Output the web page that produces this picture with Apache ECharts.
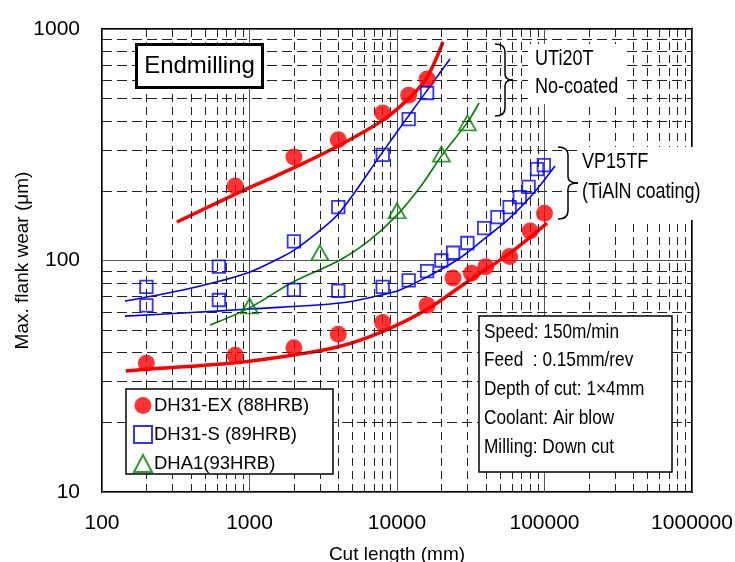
<!DOCTYPE html>
<html><head><meta charset="utf-8">
<script src="https://cdn.jsdelivr.net/npm/echarts@6/dist/echarts.min.js"></script>
<style>html,body{margin:0;padding:0;background:#fff}#c{width:735px;height:562px}</style>
</head><body><div id="c"></div>
<script>
// ---- tick labels ----
const xTickLabels = ['100', '1000', '10000', '100000', '1000000'];
const yTickLabels = ['10', '100', '1000'];
const minorX = [200,300,400,500,600,700,800,900,2000,3000,4000,5000,6000,7000,8000,9000,
  20000,30000,40000,50000,60000,70000,80000,90000,200000,300000,400000,500000,600000,700000,800000,900000];
const minorY = [20,30,40,50,60,70,80,90,200,300,400,500,600,700,800,900];

// ---- DH31-EX (88HRB) measured points ----
const exUpX = [800, 2000, 4000, 8000, 12000, 16000];
const exUpY = [210, 280, 332, 434, 518, 608];
const exLowX = [200, 800, 2000, 4000, 8000, 16000, 24000, 32000, 40000, 58000, 80000, 100000];
const exLowY = [36, 39, 42, 48, 54, 64, 84, 88, 94, 104, 134, 160];
// ---- DH31-S (89HRB) measured points ----
const sUpX = [200, 620, 2000, 4000, 8000, 12000, 16000];
const sUpY = [77, 94, 121, 170, 286, 408, 529];
const sLowX = [200, 620, 2000, 4000, 8000, 12000, 16000, 20000, 24000, 30000, 39000, 48000, 58000, 68000, 78000, 89000, 99000];
const sLowY = [64, 67.5, 74.6, 74, 77, 82, 90, 100, 108, 119, 138, 154, 170, 188, 208, 248, 258];
// ---- DHA1 (93HRB) measured points ----
const aX = [1000, 3000, 10000, 20000, 30000];
const aY = [63.6, 108, 164, 288, 393];

// ---- fitted curves ----
const exUpCurveX = [322, 863, 1315, 2198, 3980, 7900, 11700, 15740, 20500];
const exUpCurveY = [146.6, 197.7, 223, 258.7, 312.4, 401, 493, 608, 879];
const exLowCurveX = [145, 200, 800, 2000, 4000, 7900, 15700, 29860, 58300, 104000];
const exLowCurveY = [33.3, 33.9, 36.2, 39.1, 42.4, 49.2, 61.1, 80.8, 107.6, 145];
const sUpCurveX = [143, 354, 631, 1008, 1610, 1972, 2870, 4110, 7900, 11700, 15740, 22860];
const sUpCurveY = [66.8, 74.6, 81.5, 89.2, 102.6, 110, 131.6, 162, 291, 413, 535, 742];
const sLowCurveX = [143, 354, 1000, 4110, 7900, 10470, 15960, 25500, 38300, 58300, 83500, 117800];
const sLowCurveY = [57.5, 59.3, 61.7, 65.5, 71, 74.6, 84.9, 100.5, 122.7, 152.8, 193.6, 255.8];
const aCurveX = [540, 1000, 1972, 4110, 6560, 10000, 14320, 20180, 29860, 35970];
const aCurveY = [52.6, 62.4, 80.8, 100.5, 122.7, 157, 207, 285, 393, 479];

const names = ['DH31-EX (88HRB)', 'DH31-S (89HRB)', 'DHA1(93HRB)'];
const conditions = ['Speed: 150m/min', 'Feed  : 0.15mm/rev', 'Depth of cut: 1\u00d74mm', 'Coolant: Air blow', 'Milling: Down cut'];

const RED = '#ff0000', BLUE = '#0000ff', GREEN = '#008000';
const REG = "'Liberation Sans', Arial, sans-serif";

const zip = (xs, ys) => xs.map((x, i) => [x, ys[i]]);

const chart = echarts.init(document.getElementById('c'), null, {renderer: 'canvas'});

function curve(xs, ys, color, w) {
  return {type: 'line', data: zip(xs, ys), smooth: 0.35, showSymbol: false, symbol: 'none',
    lineStyle: {color: color, width: w}, z: 3, silent: true, animation: false};
}
// condensed text drawn as graphic (scaled horizontally)
function ntext(x, y, t, size) {
  return {type: 'text', z: 101, x: x, y: y, scaleX: 0.82, scaleY: 1,
    style: {x: 0, y: 0, text: t, font: size + "px " + REG, fill: '#000', align: 'left', verticalAlign: 'middle'}};
}
function brace(x0, xs, xt, y0, ym, y1) {
  const st = {stroke: '#000', lineWidth: 1.5, fill: null};
  const r = 8, r2 = 6;
  return [
    {type: 'bezierCurve', z: 101, shape: {x1: x0, y1: y0, cpx1: xs, cpy1: y0, x2: xs, y2: y0 + r}, style: st},
    {type: 'line', z: 101, shape: {x1: xs, y1: y0 + r, x2: xs, y2: ym - r2}, style: st},
    {type: 'bezierCurve', z: 101, shape: {x1: xs, y1: ym - r2, cpx1: xs, cpy1: ym, x2: xt, y2: ym}, style: st},
    {type: 'bezierCurve', z: 101, shape: {x1: xt, y1: ym, cpx1: xs, cpy1: ym, x2: xs, y2: ym + r2}, style: st},
    {type: 'line', z: 101, shape: {x1: xs, y1: ym + r2, x2: xs, y2: y1 - r}, style: st},
    {type: 'bezierCurve', z: 101, shape: {x1: xs, y1: y1 - r, cpx1: xs, cpy1: y1, x2: x0, y2: y1}, style: st}
  ];
}

const option = {
  animation: false,
  backgroundColor: '#fff',
  grid: {left: 102, top: 29, right: 43, bottom: 70, outerBoundsMode: 'none', containLabel: false,
    show: true, borderColor: '#000', borderWidth: 2, backgroundColor: 'transparent'},
  xAxis: {
    type: 'log', logBase: 10, min: 100, max: 1000000,
    name: 'Cut length (mm)', nameLocation: 'middle', nameGap: 53, nameMoveOverlap: false,
    nameTextStyle: {fontFamily: REG, fontSize: 19, color: '#000'},
    axisLine: {show: false}, axisTick: {show: false},
    axisLabel: {fontFamily: REG, fontSize: 21, color: '#000', margin: 21,
      formatter: v => xTickLabels[Math.round(Math.log10(v)) - 2]},
    splitLine: {show: true, lineStyle: {color: '#555', width: 1}}
  },
  yAxis: {
    type: 'log', logBase: 10, min: 10, max: 1000,
    name: 'Max. flank wear (\u03bcm)', nameLocation: 'middle', nameGap: 70, nameMoveOverlap: false,
    nameTextStyle: {fontFamily: REG, fontSize: 19, color: '#000'},
    axisLine: {show: false}, axisTick: {show: false},
    axisLabel: {fontFamily: REG, fontSize: 21, color: '#000', margin: 22, padding: [0, 0, 6, 0],
      formatter: v => yTickLabels[Math.round(Math.log10(v)) - 1]},
    splitLine: {show: true, lineStyle: {color: '#555', width: 1}}
  },
  legend: {
    show: true, orient: 'vertical', left: 128, top: 391, itemGap: 10, padding: 5,
    itemWidth: 18, itemHeight: 17, z: 200, selectedMode: false,
    textStyle: {fontFamily: REG, fontSize: 18.5, color: '#000', padding: [0, 0, 0, -3]},
    data: names
  },
  series: [
    {type: 'line', name: 'grid', data: [[100, 10]], showSymbol: false, lineStyle: {width: 0}, z: 1, silent: true,
      markLine: {silent: true, symbol: 'none', label: {show: false}, animation: false,
        data: minorX.map(v => ({xAxis: v, lineStyle: {type: [8, 5], color: '#222', width: 1}}))
          .concat(minorY.map(v => ({yAxis: v, lineStyle: {type: [10, 5], color: '#222', width: 1}})))}},
    curve(exUpCurveX, exUpCurveY, RED, 3.5),
    curve(exLowCurveX, exLowCurveY, RED, 3.5),
    curve(sUpCurveX, sUpCurveY, BLUE, 1.6),
    curve(sLowCurveX, sLowCurveY, BLUE, 1.6),
    curve(aCurveX, aCurveY, GREEN, 1.6),
    {type: 'scatter', name: names[0], data: zip(exUpX, exUpY).concat(zip(exLowX, exLowY)),
      symbol: 'circle', symbolSize: 17, itemStyle: {color: RED}, z: 5},
    {type: 'scatter', name: names[1], data: zip(sUpX, sUpY).concat(zip(sLowX, sLowY)),
      symbol: 'rect', symbolSize: 12.5, itemStyle: {color: 'rgba(255,255,255,0)', borderColor: BLUE, borderWidth: 1.8}, z: 5},
    {type: 'scatter', name: names[2], data: zip(aX, aY),
      symbol: 'triangle', symbolSize: [17, 15], itemStyle: {color: 'rgba(255,255,255,0)', borderColor: GREEN, borderWidth: 1.8}, z: 5}
  ],
  graphic: [
    {type: 'rect', z: 100, shape: {x: 136.5, y: 44.5, width: 126, height: 43}, style: {fill: '#fff', stroke: '#000', lineWidth: 3}},
    {type: 'text', z: 101, style: {x: 199.5, y: 66, text: 'Endmilling', font: "24px " + REG, fill: '#000', align: 'center', verticalAlign: 'middle'}},
    {type: 'rect', z: 100, shape: {x: 126, y: 389, width: 207, height: 85}, style: {fill: '#fff', stroke: '#000', lineWidth: 1.5}},
    {type: 'rect', z: 100, shape: {x: 479, y: 316, width: 193, height: 156}, style: {fill: '#fff', stroke: '#000', lineWidth: 1.5}},
    {type: 'rect', z: 100, shape: {x: 528, y: 44, width: 97, height: 60}, style: {fill: '#fff'}},
    {type: 'rect', z: 100, shape: {x: 577, y: 147, width: 130, height: 73}, style: {fill: '#fff'}},
    ntext(535, 59, 'UTi20T', 22), ntext(535, 87, 'No-coated', 22),
    ntext(582, 162, 'VP15TF', 22), ntext(582, 192, '(TiAlN coating)', 22)
  ].concat(conditions.map((t, i) => ntext(484, 332 + i * 28.7, t, 21)))
   .concat(brace(495, 505, 513, 44, 80, 116))
   .concat(brace(558, 568, 578, 147, 183, 219))
};
chart.setOption(option);
</script></body></html>
